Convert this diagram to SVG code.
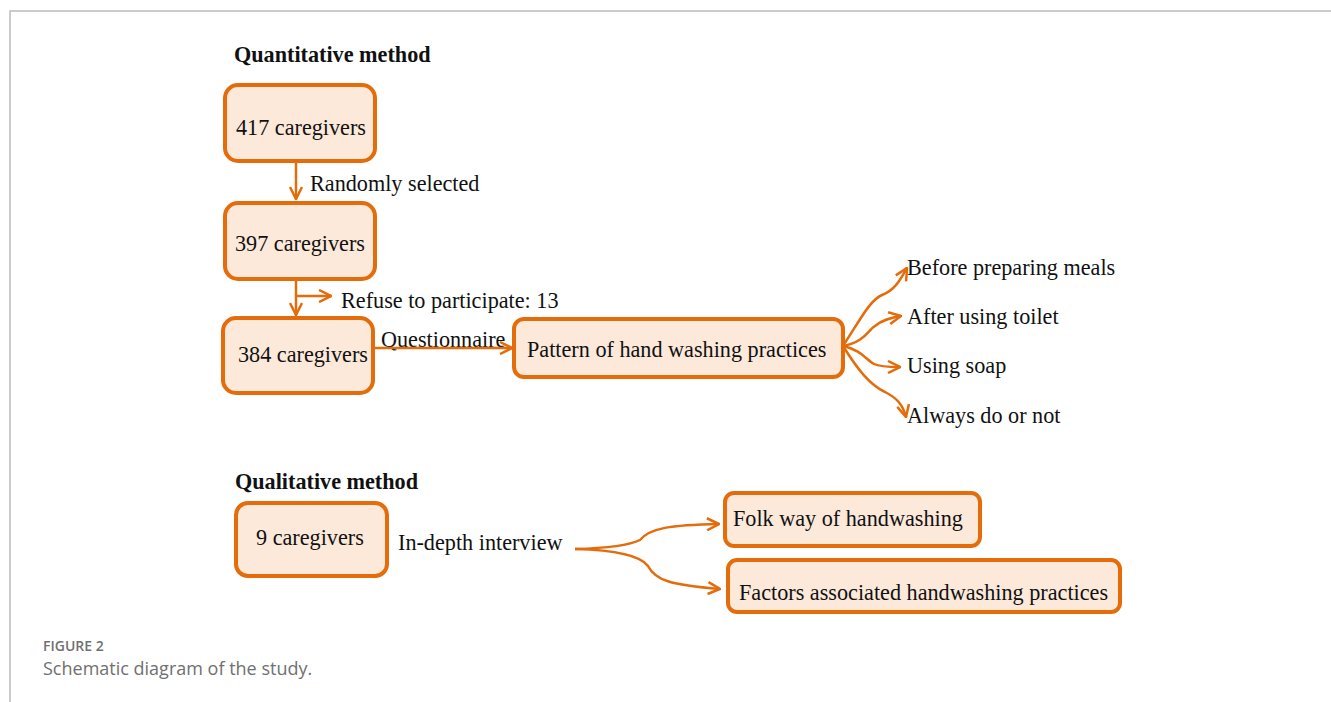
<svg xmlns="http://www.w3.org/2000/svg" width="1331" height="702" viewBox="0 0 1331 702">
<style>
.box{fill:#FCE9DA;stroke:#E46C0A;stroke-width:4}
.t{font-family:"Liberation Serif","Times New Roman",serif;font-size:22.2px;fill:#111}
.h{font-family:"Liberation Serif","Times New Roman",serif;font-size:22.2px;font-weight:bold;fill:#111}
.c{fill:none;stroke:#E46C0A;stroke-width:2.5;marker-end:url(#ah)}
.cap1{font-family:"Open Sans",sans-serif;font-size:14px;font-weight:600;fill:#707070}
.cap2{font-family:"Open Sans",sans-serif;font-size:18px;fill:#707070}
</style>
<defs>
<marker id="ah" viewBox="0 0 14 14" refX="13" refY="7" markerWidth="14" markerHeight="14" markerUnits="userSpaceOnUse" orient="auto">
<path d="M1,1 L13,7 L1,13" fill="none" stroke="#E46C0A" stroke-width="2.5"/>
</marker>
</defs>
<rect width="1331" height="702" fill="#fff"/>
<path d="M10,702 V11 H1331" fill="none" stroke="#bbb" stroke-width="1.5"/>
<text class="h" x="234" y="62">Quantitative method</text>
<text class="h" x="235" y="489">Qualitative method</text>
<g id="n417"><rect class="box" x="225" y="85" width="150" height="76" rx="13"/><text class="t" x="236" y="135">417 caregivers</text></g>
<g id="n397"><rect class="box" x="225" y="203" width="150" height="76" rx="13"/><text class="t" x="235" y="251">397 caregivers</text></g>
<g id="n384"><rect class="box" x="223" y="318" width="150" height="75" rx="13"/><text class="t" x="238" y="362">384 caregivers</text></g>
<g id="pattern"><rect class="box" x="514" y="319" width="329" height="58" rx="10"/><text class="t" x="527" y="357">Pattern of hand washing practices</text></g>
<g id="n9"><rect class="box" x="236" y="503" width="151" height="73" rx="12"/><text class="t" x="256" y="545">9 caregivers</text></g>
<g id="folk"><rect class="box" x="725" y="493" width="255" height="53" rx="9"/><text class="t" x="733" y="526">Folk way of handwashing</text></g>
<g id="factors"><rect class="box" x="728" y="560" width="392" height="52" rx="9"/><text class="t" x="739" y="600">Factors associated handwashing practices</text></g>
<g id="labels">
<text class="t" x="310" y="191">Randomly selected</text>
<text class="t" x="341" y="308">Refuse to participate: 13</text>
<text class="t" x="381" y="347">Questionnaire</text>
<text class="t" x="907" y="275">Before preparing meals</text>
<text class="t" x="907" y="324">After using toilet</text>
<text class="t" x="907" y="373">Using soap</text>
<text class="t" x="907" y="423">Always do or not</text>
<text class="t" x="398" y="550">In-depth interview</text>
</g>
<g id="connectors">
<path class="c" d="M296,161 V199"/>
<path class="c" d="M296,279 V315"/>
<path class="c" d="M296,296 H331"/>
<path class="c" d="M373,348 H512"/>
<path class="c" d="M843,346 C860,320 870,300 882,295 C895,290 900,280 907,268"/>
<path class="c" d="M843,346 C865,342 868,330 875,326 C882,320 890,318 901,316"/>
<path class="c" d="M843,346 C862,350 866,360 874,364 C880,367 890,367 900,367"/>
<path class="c" d="M843,346 C858,370 870,385 885,392 C897,398 903,405 906,417"/>
<path class="c" d="M575,549 C610,548 630,545 640,540 C650,528 670,525 719,524"/>
<path class="c" d="M575,549 C615,550 640,555 648,566 C655,580 670,585 720,589"/>
</g>
<text class="cap1" x="43" y="651">FIGURE 2</text>
<text class="cap2" x="43" y="675">Schematic diagram of the study.</text>
</svg>
